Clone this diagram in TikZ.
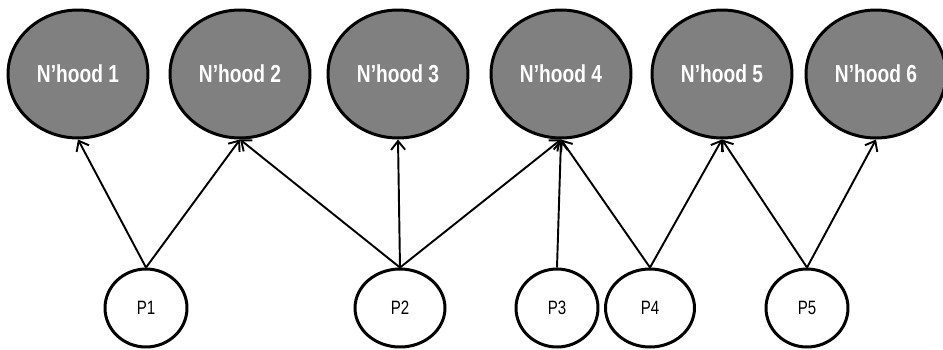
\documentclass[tikz,border=0pt]{standalone}
\usepackage{fontspec}
\usepackage{tikz}
\usetikzlibrary{shapes.geometric,arrows.meta}
\newfontfamily\hoodfont[FakeStretch=0.78]{Liberation Sans}

\begin{document}
\begin{tikzpicture}[x=0.02cm,y=-0.02cm,
  hood/.style={ellipse,draw,line width=1.7pt,fill=gray,text=white,
    minimum width=2.8cm,minimum height=2.56cm,inner sep=0pt,
    font=\hoodfont\bfseries\fontsize{14}{16}\selectfont},
  pers/.style={ellipse,draw,line width=1.7pt,fill=white,
    minimum width=1.64cm,minimum height=1.56cm,inner sep=0pt,
    font=\hoodfont\fontsize{11}{13}\selectfont},
  link/.style={-{Straight Barb[length=5pt,width=8pt,line width=1.1pt]},line width=1.1pt}]
\useasboundingbox (0,0) rectangle (943,349);
% neighbourhoods
\node [hood] (n1) at (78,74) {N’hood 1};
\node [hood] (n2) at (240,74) {N’hood 2};
\node [hood] (n3) at (398,74) {N’hood 3};
\node [hood] (n4) at (561,74) {N’hood 4};
\node [hood] (n5) at (722,74) {N’hood 5};
\node [hood] (n6) at (876,74) {N’hood 6};
% people
\node [pers] (p1) at (146,308) {P1};
\node [pers, minimum width=1.8cm] (p2) at (400,308) {P2};
\node [pers] (p3) at (557,308) {P3};
\node [pers, minimum width=1.78cm] (p4) at (650,308) {P4};
\node [pers] (p5) at (807,308) {P5};
% links
\draw [link] (p1.north) -- (n1.south);
\draw [link] (p1.north) -- (n2.south);
\draw [link] (p2.north) -- (n2.south);
\draw [link] (p2.north) -- (n3.south);
\draw [link] (p2.north) -- (n4.south);
\draw [link] (p3.north) -- (n4.south);
\draw [link] (p4.north) -- (n4.south);
\draw [link] (p4.north) -- (n5.south);
\draw [link] (p5.north) -- (n5.south);
\draw [link] (p5.north) -- (n6.south);
\end{tikzpicture}
\end{document}
